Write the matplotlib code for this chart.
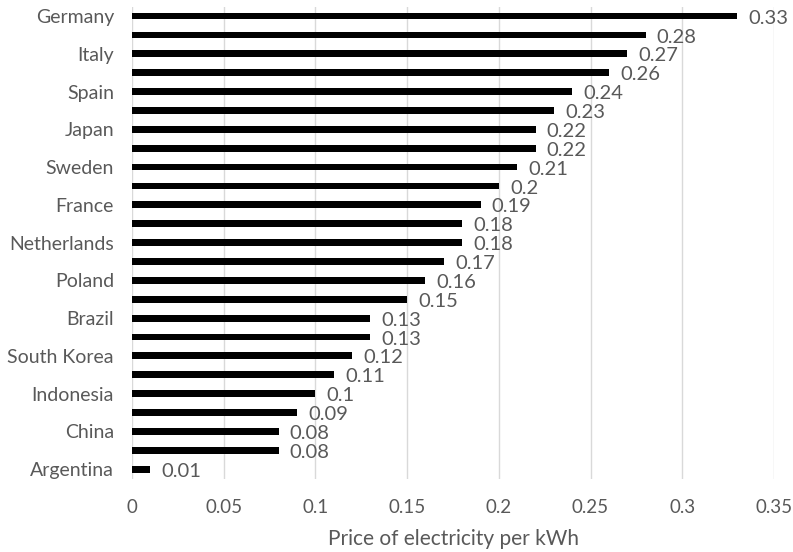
import matplotlib
matplotlib.use("Agg")
import matplotlib.pyplot as plt

# Price of electricity per kWh, highest to lowest (every other country is labelled)
countries = [
    "Germany", "", "Italy", "", "Spain", "", "Japan", "", "Sweden", "",
    "France", "", "Netherlands", "", "Poland", "", "Brazil", "", "South Korea", "",
    "Indonesia", "", "China", "", "Argentina",
]
prices = [
    0.33, 0.28, 0.27, 0.26, 0.24, 0.23, 0.22, 0.22, 0.21, 0.2,
    0.19, 0.18, 0.18, 0.17, 0.16, 0.15, 0.13, 0.13, 0.12, 0.11,
    0.1, 0.09, 0.08, 0.08, 0.01,
]
x_ticks = [0, 0.05, 0.1, 0.15, 0.2, 0.25, 0.3, 0.35]
x_tick_labels = ["0", "0.05", "0.1", "0.15", "0.2", "0.25", "0.3", "0.35"]

plt.rcParams["font.family"] = ["Lato", "DejaVu Sans"]
text_color = "#595959"

fig = plt.figure(figsize=(7.93, 5.52), dpi=100)
ax = fig.add_axes([0.1665, 0.133, 0.8095, 0.855])

positions = list(range(len(prices)))
ax.barh(positions, prices, height=0.36, color="black", zorder=3)

for pos, val in zip(positions, prices):
    ax.annotate(f"{val:g}", xy=(val, pos), xytext=(8, -1.5), textcoords="offset points",
                va="center", ha="left", fontsize=14.5, color=text_color)

ax.set_ylim(len(prices) - 0.5, -0.5)
ax.set_yticks(positions)
ax.set_yticklabels(countries, fontsize=14, color=text_color)

ax.set_xlim(0, 0.35)
ax.set_xticks(x_ticks)
ax.set_xticklabels(x_tick_labels, fontsize=13.5, color=text_color)
ax.xaxis.grid(True, color="#d9d9d9", linewidth=1, zorder=0)
ax.tick_params(axis="both", length=0)
ax.tick_params(axis="x", pad=15)
ax.tick_params(axis="y", pad=13)

for spine in ax.spines.values():
    spine.set_visible(False)

ax.set_xlabel("Price of electricity per kWh", fontsize=15, color=text_color, labelpad=9)

fig.savefig("out.png", dpi=100)
